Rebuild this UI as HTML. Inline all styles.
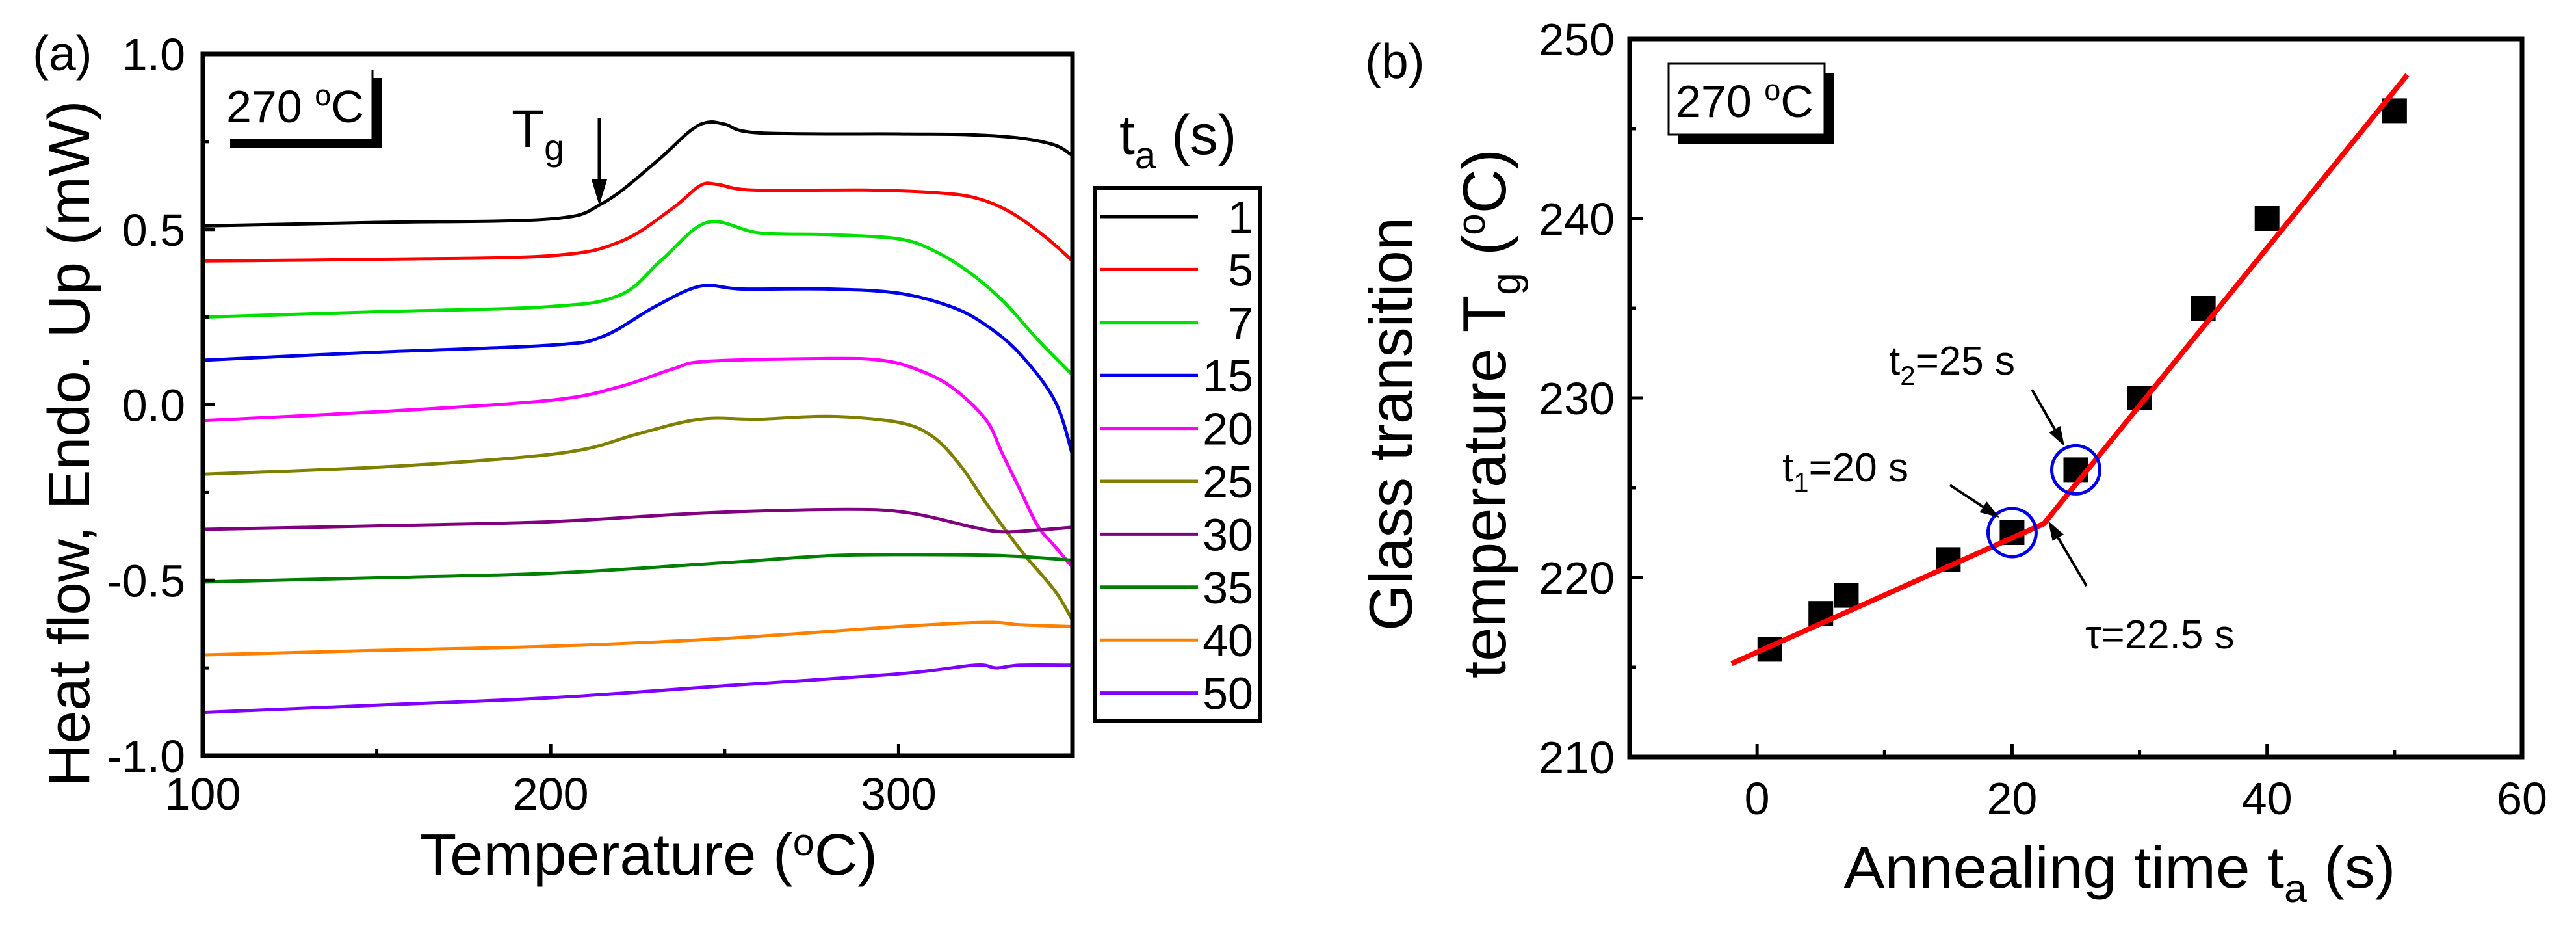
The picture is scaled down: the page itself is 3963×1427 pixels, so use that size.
<!DOCTYPE html>
<html><head><meta charset="utf-8"><style>
html,body{margin:0;padding:0;background:#fff;}
svg{display:block;font-family:"Liberation Sans",Arial,sans-serif;}
</style></head><body>
<svg id="fig" width="3963" height="1427" viewBox="0 0 3963 1427" xmlns="http://www.w3.org/2000/svg">
<rect width="3963" height="1427" fill="#fff"/>
<g id="pa"></g>
<g id="pb"></g>
</svg>
<script>
// ---- Panel (a) data ----
const aLabels = ["1","5","7","15","20","25","30","35","40","50"];
const aColors = ["#000000","#ff0000","#00e000","#0000e6","#ff00ff","#808000","#800080","#008000","#ff8000","#8000ff"];
const aT1 = [100,150,200,215,230,240,245,250,260,300,320,335,345,350];
const aV1 = [0.51,0.52,0.53,0.575,0.69,0.78,0.805,0.80,0.775,0.772,0.77,0.76,0.74,0.71];
const aT5 = [100,150,200,220,235,243,248,258,290,310,322,332,342,350];
const aV5 = [0.41,0.415,0.425,0.465,0.56,0.625,0.628,0.612,0.612,0.605,0.59,0.55,0.48,0.41];
const aT7 = [100,150,200,220,232,245,260,280,300,310,320,330,340,350];
const aV7 = [0.25,0.265,0.28,0.313,0.414,0.52,0.49,0.485,0.473,0.44,0.38,0.296,0.186,0.085];
const aT15 = [100,150,200,215,230,243,255,280,300,315,325,335,345,350];
const aV15 = [0.127,0.15,0.17,0.195,0.28,0.338,0.33,0.33,0.318,0.28,0.228,0.144,0.01,-0.143];
const aT20 = [100,150,200,220,235,245,280,295,305,315,325,330,335,340,345,350];
const aV20 = [-0.045,-0.02,0.013,0.052,0.102,0.124,0.132,0.127,0.102,0.052,-0.041,-0.143,-0.244,-0.345,-0.404,-0.463];
const aT25 = [100,150,190,210,225,243,260,280,300,310,318,325,335,345,350];
const aV25 = [-0.198,-0.178,-0.151,-0.126,-0.083,-0.041,-0.041,-0.033,-0.05,-0.092,-0.176,-0.278,-0.413,-0.531,-0.615];
const aT30 = [100,150,200,245,285,303,322,330,340,350];
const aV30 = [-0.355,-0.345,-0.333,-0.308,-0.298,-0.308,-0.35,-0.362,-0.357,-0.349];
const aT35 = [100,150,200,250,280,305,330,350];
const aV35 = [-0.505,-0.493,-0.48,-0.45,-0.43,-0.427,-0.43,-0.443];
const aT40 = [100,150,200,250,300,325,335,350];
const aV40 = [-0.713,-0.70,-0.688,-0.666,-0.632,-0.62,-0.627,-0.632];
const aT50 = [100,150,200,250,300,322,328,335,350];
const aV50 = [-0.877,-0.856,-0.835,-0.801,-0.767,-0.742,-0.75,-0.742,-0.742];
const aXTicks = [100,200,300];
const aYTicks = [1.0,0.5,0.0,-0.5,-1.0];
const aYTickLabels = ["1.0","0.5","0.0","-0.5","-1.0"];

// ---- Panel (b) data ----
const bTimes = [1,5,7,15,20,25,30,35,40,50];
const bTg = [216,218,219,221,222.5,226,230,235,240,246];
const bFitT = [-2,22.5,51];
const bFitTg = [215.2,223.0,248.0];
const bCircleT = [20,25];
const bCircleTg = [222.5,226];
const bXTicks = [0,20,40,60];
const bYTicks = [210,220,230,240,250];

const NS="http://www.w3.org/2000/svg";
function mk(parent,tag,attrs,text){const e=document.createElementNS(NS,tag);for(const k in attrs)e.setAttribute(k,attrs[k]);if(text!==undefined)e.textContent=text;parent.appendChild(e);return e;}

const axA={x0:312,x1:1650,y0:83,y1:1162,xmin:100,xmax:350,ymin:-1,ymax:1};
const xA=t=>axA.x0+(t-axA.xmin)/(axA.xmax-axA.xmin)*(axA.x1-axA.x0);
const yA=v=>axA.y1-(v-axA.ymin)/(axA.ymax-axA.ymin)*(axA.y1-axA.y0);
const axB={x0:2507,x1:3880,y0:60,y1:1164,xmin:-10,xmax:60,ymin:210,ymax:250};
const xB=t=>axB.x0+(t-axB.xmin)/(axB.xmax-axB.xmin)*(axB.x1-axB.x0);
const yB=v=>axB.y1-(v-axB.ymin)/(axB.ymax-axB.ymin)*(axB.y1-axB.y0);

function smooth(pts){let d="M"+pts[0][0]+","+pts[0][1];for(let i=0;i<pts.length-1;i++){const p0=pts[i-1]||pts[i],p1=pts[i],p2=pts[i+1],p3=pts[i+2]||p2;const c1=[p1[0]+(p2[0]-p0[0])/6,p1[1]+(p2[1]-p0[1])/6],c2=[p2[0]-(p3[0]-p1[0])/6,p2[1]-(p3[1]-p1[1])/6];d+=" C"+c1[0].toFixed(1)+","+c1[1].toFixed(1)+" "+c2[0].toFixed(1)+","+c2[1].toFixed(1)+" "+p2[0].toFixed(1)+","+p2[1].toFixed(1);}return d;}

// ---------- Panel A ----------
const pa=document.getElementById('pa');
const seriesT=[aT1,aT5,aT7,aT15,aT20,aT25,aT30,aT35,aT40,aT50];
const seriesV=[aV1,aV5,aV7,aV15,aV20,aV25,aV30,aV35,aV40,aV50];
for(let s=0;s<seriesT.length;s++){
  const pts=seriesT[s].map((t,i)=>[xA(t),yA(seriesV[s][i])]);
  const p=mk(pa,'path',{d:smooth(pts),fill:'none',stroke:aColors[s],'stroke-width':5});
  
  
}
const fa=mk(pa,'rect',{x:axA.x0,y:axA.y0,width:axA.x1-axA.x0,height:axA.y1-axA.y0,fill:'none',stroke:'#000','stroke-width':7});

for(let t=100;t<=350;t+=50){const maj=aXTicks.includes(t);mk(pa,'line',{x1:xA(t),x2:xA(t),y1:axA.y1,y2:axA.y1-(maj?18:10),stroke:'#000','stroke-width':5});}
for(let v=-1;v<=1.001;v+=0.25){const maj=Math.abs(v*2-Math.round(v*2))<0.01;mk(pa,'line',{x1:axA.x0,x2:axA.x0+(maj?18:10),y1:yA(v),y2:yA(v),stroke:'#000','stroke-width':5});}
aXTicks.forEach(t=>{const e=mk(pa,'text',{x:xA(t),y:1245,'font-size':70,'text-anchor':'middle'},String(t));});
aYTicks.forEach((v,i)=>{const e=mk(pa,'text',{x:285,y:yA(v)+25,'font-size':70,'text-anchor':'end'},aYTickLabels[i]);});
let e=mk(pa,'text',{x:998,y:1345,'font-size':90,'text-anchor':'middle',textLength:704,lengthAdjust:'spacingAndGlyphs'});

e.innerHTML='Temperature (<tspan dy="-30" font-size="58">o</tspan><tspan dy="30">C)</tspan>';
e=mk(pa,'text',{x:0,y:0,'font-size':90,'text-anchor':'middle',textLength:1055,lengthAdjust:'spacingAndGlyphs',transform:'translate(137,682) rotate(-90)'},'Heat flow, Endo. Up (mW)');

e=mk(pa,'text',{x:50,y:108,'font-size':75},'(a)');

mk(pa,'rect',{x:354,y:120,width:234,height:107,fill:'#000'});
mk(pa,'rect',{x:336,y:105,width:236,height:108,fill:'#fff'});
mk(pa,'line',{x1:573,x2:573,y1:107,y2:213,stroke:'#000','stroke-width':3});
e=mk(pa,'text',{x:348,y:188,'font-size':70});

e.innerHTML='270 <tspan dy="-26" font-size="45">o</tspan><tspan dy="26">C</tspan>';
e=mk(pa,'text',{x:787,y:226,'font-size':82});

e.innerHTML='T<tspan dy="20" font-size="56">g</tspan>';
mk(pa,'line',{x1:922,x2:922,y1:182,y2:290,stroke:'#000','stroke-width':5});
mk(pa,'polygon',{points:'910,276 934,276 922,316',fill:'#000'});
e=mk(pa,'text',{x:1722,y:237,'font-size':86});

e.innerHTML='t<tspan dy="22" font-size="58">a</tspan><tspan dy="-22"> (s)</tspan>';
const lb=mk(pa,'rect',{x:1684,y:289,width:255,height:820,fill:'#fff',stroke:'#000','stroke-width':6});

aLabels.forEach((lab,i)=>{
  const y=333+i*81.4;
  const g=mk(pa,'g',{});
  
  
  mk(g,'line',{x1:1692,x2:1843,y1:y,y2:y,stroke:aColors[i],'stroke-width':5});
  mk(g,'text',{x:1928,y:y+25,'font-size':70,'text-anchor':'end'},lab);
});

// ---------- Panel B ----------
const pb=document.getElementById('pb');
const fb=mk(pb,'rect',{x:axB.x0,y:axB.y0,width:axB.x1-axB.x0,height:axB.y1-axB.y0,fill:'none',stroke:'#000','stroke-width':7});

for(let t=0;t<=60;t+=10){const maj=bXTicks.includes(t);mk(pb,'line',{x1:xB(t),x2:xB(t),y1:axB.y1,y2:axB.y1-(maj?20:10),stroke:'#000','stroke-width':5});}
for(let v=210;v<=250;v+=5){const maj=bYTicks.includes(v);mk(pb,'line',{x1:axB.x0,x2:axB.x0+(maj?20:10),y1:yB(v),y2:yB(v),stroke:'#000','stroke-width':5});}
bXTicks.forEach(t=>{const e=mk(pb,'text',{x:xB(t),y:1252,'font-size':70,'text-anchor':'middle'},String(t));});
bYTicks.forEach(v=>{const e=mk(pb,'text',{x:2484,y:yB(v)+25,'font-size':70,'text-anchor':'end'},String(v));});
e=mk(pb,'text',{x:3261,y:1365,'font-size':90,'text-anchor':'middle',textLength:849,lengthAdjust:'spacingAndGlyphs'});

e.innerHTML='Annealing time t<tspan dy="22" font-size="60">a</tspan><tspan dy="-22"> (s)</tspan>';
e=mk(pb,'text',{x:0,y:0,'font-size':94,'text-anchor':'middle',textLength:636,lengthAdjust:'spacingAndGlyphs',transform:'translate(2172,652) rotate(-90)'},'Glass transition');

e=mk(pb,'text',{x:0,y:0,'font-size':94,'text-anchor':'middle',textLength:814,lengthAdjust:'spacingAndGlyphs',transform:'translate(2316,636) rotate(-90)'});

e.innerHTML='temperature T<tspan dy="22" font-size="62">g</tspan><tspan dy="-22"> (</tspan><tspan dy="-32" font-size="60">o</tspan><tspan dy="32">C)</tspan>';
e=mk(pb,'text',{x:2100,y:120,'font-size':75},'(b)');

mk(pb,'rect',{x:2582,y:113,width:240,height:109,fill:'#000'});
mk(pb,'rect',{x:2567,y:98,width:240,height:109,fill:'#fff',stroke:'#000','stroke-width':3});
e=mk(pb,'text',{x:2578,y:180,'font-size':70});

e.innerHTML='270 <tspan dy="-26" font-size="45">o</tspan><tspan dy="26">C</tspan>';
bTimes.forEach((t,i)=>{const r=mk(pb,'rect',{x:xB(t)-19,y:yB(bTg[i])-19,width:38,height:38,fill:'#000'});});
const fitPts=bFitT.map((t,i)=>xB(t).toFixed(1)+','+yB(bFitTg[i]).toFixed(1)).join(' ');
const fl=mk(pb,'polyline',{points:fitPts,fill:'none',stroke:'#ff0000','stroke-width':8});

bCircleT.forEach((t,i)=>{const c=mk(pb,'ellipse',{cx:xB(t),cy:yB(bCircleTg[i]),rx:37,ry:37,fill:'none',stroke:'#0000e6','stroke-width':5});});
function arrow(x1,y1,x2,y2,name){const g=mk(pb,'g',{});
 const a=Math.atan2(y2-y1,x2-x1),L=30,W=10;const bx=x2-L*Math.cos(a),by=y2-L*Math.sin(a);
 mk(g,'line',{x1:x1,y1:y1,x2:bx,y2:by,stroke:'#000','stroke-width':4});
 mk(g,'polygon',{points:x2+','+y2+' '+(bx+W*Math.sin(a))+','+(by-W*Math.cos(a))+' '+(bx-W*Math.sin(a))+','+(by+W*Math.cos(a)),fill:'#000'});}
arrow(3000,746,3076,796,'t1-arrow');
arrow(3126,599,3176,686,'t2-arrow');
arrow(3210,901,3151,801,'tau-arrow');
e=mk(pb,'text',{x:2742,y:740,'font-size':62});

e.innerHTML='t<tspan dy="16" font-size="42">1</tspan><tspan dy="-16">=20 s</tspan>';
e=mk(pb,'text',{x:2906,y:576,'font-size':62});

e.innerHTML='t<tspan dy="16" font-size="42">2</tspan><tspan dy="-16">=25 s</tspan>';
e=mk(pb,'text',{x:3208,y:997,'font-size':62},'τ=22.5 s');

</script>
</body></html>
